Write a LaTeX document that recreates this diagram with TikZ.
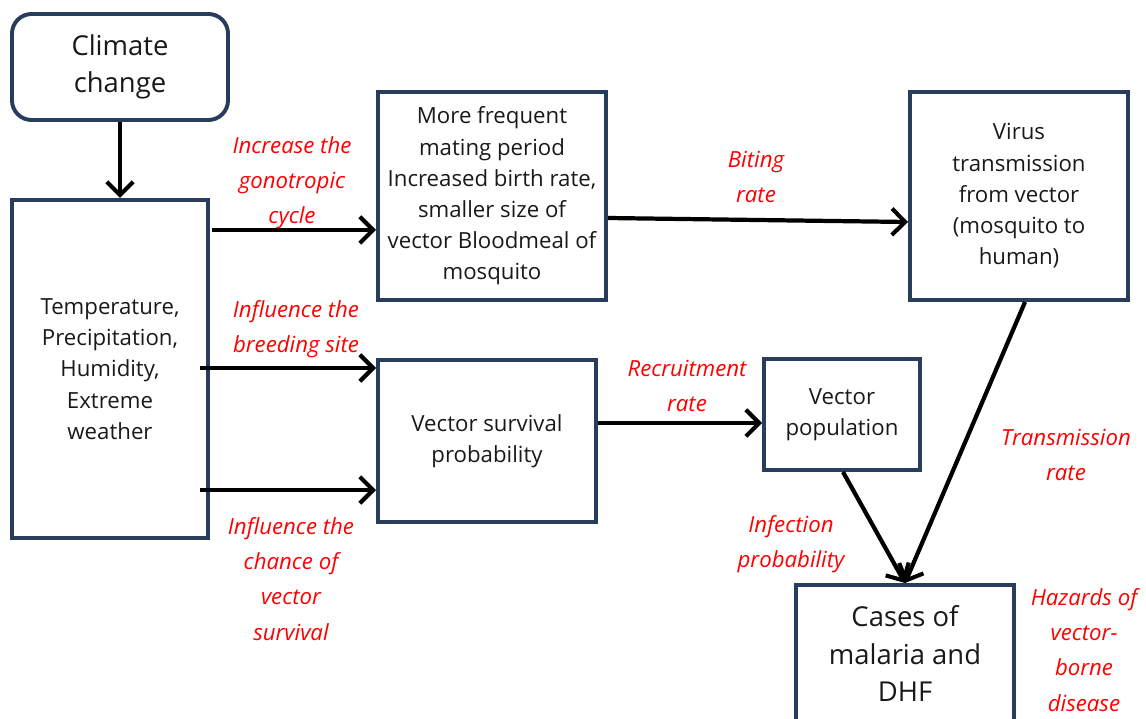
\documentclass[tikz,border=0pt]{standalone}
\usepackage{fontspec}
\setmainfont{Open Sans}
\usetikzlibrary{arrows.meta,positioning,calc}
\definecolor{boxnavy}{RGB}{40,60,92}
\definecolor{labred}{RGB}{255,0,0}
\tikzset{
  box/.style={draw=boxnavy, line width=2.8pt, align=center, inner sep=0pt,
              font=\fontsize{15.8}{22.2}\selectfont, text=black!90},
  bigbox/.style={box, font=\fontsize{19.5}{26.5}\selectfont},
  arrow/.style={-{Straight Barb[length=3.3mm, width=6.6mm, line width=2.9pt]},
                line width=3pt},
  lab/.style={font=\fontsize{15.8}{25}\selectfont\itshape, text=labred, align=center},
}

\begin{document}
\begin{tikzpicture}[x=0.025cm, y=-0.025cm]
\useasboundingbox (0,0) rectangle (1146,718);

% ---------------- boxes ----------------
\node[bigbox, rounded corners=14pt, minimum width=5.4cm, minimum height=2.65cm]
  (clim) at (120,67) {Climate\\change};
\node[box, minimum width=4.9cm, minimum height=8.45cm] (env) at (110,369)
  {Temperature,\\Precipitation,\\Humidity,\\Extreme\\weather};
\node[box, minimum width=5.7cm, minimum height=5.2cm] (mating) at (492,196)
  {More frequent\\mating period\\Increased birth rate,\\smaller size of\\vector Bloodmeal of\\mosquito};
\node[box, minimum width=5.45cm, minimum height=5.2cm] (virus) at (1019,196)
  {Virus\\transmission\\from vector\\(mosquito to\\human)};
\node[box, minimum width=5.45cm, minimum height=4.05cm] (surv) at (487,441)
  {Vector survival\\probability};
\node[box, minimum width=3.9cm, minimum height=2.775cm] (pop) at (842,414.5)
  {Vector\\population};
\node[bigbox, minimum width=5.45cm, minimum height=3.425cm] (cases) at (905,653.5)
  {Cases of\\malaria and\\DHF};

% ---------------- connectors ----------------
\draw[arrow] (clim.south) -- (clim.south |- env.north);

\coordinate (g1) at ($(env.north east)+(2,32)$);
\coordinate (g2) at ($(env.east)+(-10,-1)$);
\coordinate (g3) at ($(env.east)+(-10,121)$);
\draw[arrow] (g1) -- (g1 -| mating.west);
\draw[arrow] (g2) -- (g2 -| surv.west);
\draw[arrow] (g3) -- (g3 -| surv.west);

\draw[arrow] ($(mating.east)+(0,22)$) -- ($(virus.west)+(0,26)$);
\coordinate (r1) at ($(surv.east)+(0,-18)$);
\draw[arrow] (r1) -- (r1 -| pop.west);

\draw[arrow] ($(pop.south)+(1,0)$) -- (cases.north);
\draw[arrow] ($(virus.south)+(6,0)$) -- (cases.north);

% ---------------- red labels ----------------
\node[lab] (l1) at (292,183) {Increase the\\gonotropic\\cycle};
\node[lab] (l2) at (296,329) {Influence the\\breeding site};
\node[lab] (l3) at (291,579) {Influence the\\chance of\\vector\\survival};
\node[lab] (l4) at (756,177) {Biting\\rate};
\node[lab] (l5) at (687,386) {Recruitment\\rate};
\node[lab] (l6) at (791,544) {Infection\\probability};
\node[lab] (l7) at (1066,455) {Transmission\\rate};
\node[lab] (l8) at (1084,650) {Hazards of\\vector-\\borne\\disease};
\end{tikzpicture}
\end{document}
